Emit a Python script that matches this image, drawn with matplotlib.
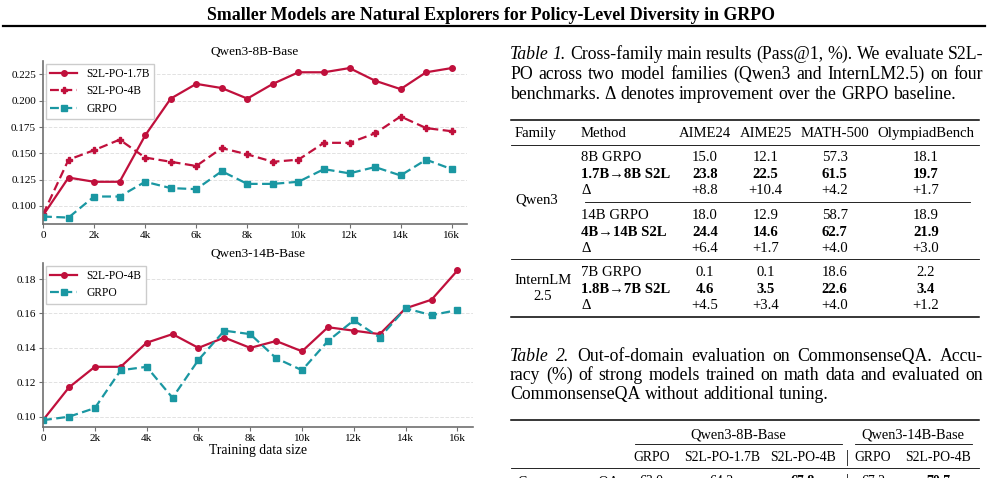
import numpy as np
import matplotlib.pyplot as plt
from matplotlib.lines import Line2D

plt.rcParams['font.family'] = ['Liberation Serif', 'DejaVu Serif']

# ---- data: training curves ----
train_size = [0, 1000, 2000, 3000, 4000, 5000, 6000, 7000, 8000,
              9000, 10000, 11000, 12000, 13000, 14000, 15000, 16000]
x_ticks = [0, 2000, 4000, 6000, 8000, 10000, 12000, 14000, 16000]
x_ticklabels = ['0', '2k', '4k', '6k', '8k', '10k', '12k', '14k', '16k']

# Qwen3-8B-Base
s2l_17b_8b = [0.091, 0.127, 0.123, 0.123, 0.167, 0.202, 0.216, 0.212, 0.202,
              0.216, 0.227, 0.227, 0.231, 0.219, 0.211, 0.227, 0.231]
s2l_4b_8b = [0.092, 0.144, 0.153, 0.163, 0.146, 0.142, 0.138, 0.155, 0.149,
             0.142, 0.144, 0.160, 0.160, 0.169, 0.185, 0.174, 0.171]
grpo_8b = [0.090, 0.089, 0.109, 0.109, 0.123, 0.117, 0.116, 0.133, 0.121,
           0.121, 0.123, 0.135, 0.131, 0.137, 0.129, 0.144, 0.135]

# Qwen3-14B-Base
s2l_4b_14b = [0.098, 0.117, 0.129, 0.129, 0.143, 0.148, 0.140, 0.146, 0.140,
              0.144, 0.138, 0.152, 0.150, 0.148, 0.163, 0.168, 0.185]
grpo_14b = [0.098, 0.100, 0.105, 0.127, 0.129, 0.111, 0.133, 0.150, 0.148,
            0.134, 0.127, 0.144, 0.156, 0.146, 0.163, 0.159, 0.162]

# ---- data: table 1 ----
t1_benchmarks = ['AIME24', 'AIME25', 'MATH-500', 'OlympiadBench']
t1_methods = ['8B GRPO', '1.7B\u21928B S2L', '\u0394',
              '14B GRPO', '4B\u219214B S2L', '\u0394',
              '7B GRPO', '1.8B\u21927B S2L', '\u0394']
qwen8_grpo = [15.0, 12.1, 57.3, 18.1]
qwen8_s2l = [23.8, 22.5, 61.5, 19.7]
qwen8_delta = [8.8, 10.4, 4.2, 1.7]
qwen14_grpo = [18.0, 12.9, 58.7, 18.9]
qwen14_s2l = [24.4, 14.6, 62.7, 21.9]
qwen14_delta = [6.4, 1.7, 4.0, 3.0]
intern_grpo = [0.1, 0.1, 18.6, 2.2]
intern_s2l = [4.6, 3.5, 22.6, 3.4]
intern_delta = [4.5, 3.4, 4.0, 1.2]

# ---- data: table 2 ----
t2_groups = ['Qwen3-8B-Base', 'Qwen3-14B-Base']
t2_methods = ['GRPO', 'S2L-PO-1.7B', 'S2L-PO-4B', 'GRPO', 'S2L-PO-4B']
t2_csqa = [63.0, 64.2, 67.8, 67.2, 70.7]
t2_bold = [False, False, True, False, True]

W, H = 988, 478
RED = '#c0103c'
TEAL = '#1a97a2'


def fx(x):
    return x / W


def fy(y):
    return 1 - y / H


fig = plt.figure(figsize=(W / 100, H / 100), dpi=100)
renderer = fig.canvas.get_renderer()


def hline(y, x0, x1, lw):
    fig.add_artist(Line2D([fx(x0), fx(x1)], [fy(y), fy(y)], transform=fig.transFigure,
                          color='black', lw=lw))


# ---- header ----
fig.text(fx(491), fy(15.5), 'Smaller Models are Natural Explorers for Policy-Level Diversity in GRPO',
         ha='center', va='center', fontsize=12.9, fontweight='bold')
hline(25.5, 3, 985, 1.6)


# ---- charts ----
def style_axes(ax, title):
    for s in ['top', 'right']:
        ax.spines[s].set_visible(False)
    for s in ['left', 'bottom']:
        ax.spines[s].set_color('#707070')
        ax.spines[s].set_linewidth(1.2)
    ax.yaxis.grid(True, ls='--', color='#e2e2e2', lw=0.7)
    ax.set_axisbelow(True)
    ax.tick_params(labelsize=8, length=3, color='#707070', pad=2)
    ax.set_xticks(x_ticks)
    ax.set_xticklabels(x_ticklabels)
    ax.set_title(title, fontsize=9.5, pad=4)
    ax.legend(loc='upper left', fontsize=8.3, frameon=True, fancybox=False,
              edgecolor='#cccccc', framealpha=1, handlelength=2.3, borderpad=0.4,
              labelspacing=0.45, handletextpad=0.8, borderaxespad=0.25)


ax1 = fig.add_axes([fx(43), fy(224), fx(467) - fx(43), fy(60.7) - fy(224)])
ax1.plot(train_size, s2l_17b_8b, color=RED, marker='o', ms=4, lw=1.6, label='S2L-PO-1.7B')
ax1.plot(train_size, s2l_4b_8b, color=RED, marker='P', ms=5, lw=1.6, ls=(0, (4, 2)), label='S2L-PO-4B')
ax1.plot(train_size, grpo_8b, color=TEAL, marker='s', ms=4, lw=1.6, ls=(0, (4, 2)), label='GRPO')
ax1.set_xlim(0, 16600)
ax1.set_ylim(0.0829, 0.238)
ax1.set_yticks([0.100, 0.125, 0.150, 0.175, 0.200, 0.225])
ax1.set_yticklabels(['0.100', '0.125', '0.150', '0.175', '0.200', '0.225'])
style_axes(ax1, 'Qwen3-8B-Base')

ax2 = fig.add_axes([fx(43), fy(426.7), fx(473) - fx(43), fy(262.7) - fy(426.7)])
ax2.plot(train_size, s2l_4b_14b, color=RED, marker='o', ms=4, lw=1.6, label='S2L-PO-4B')
ax2.plot(train_size, grpo_14b, color=TEAL, marker='s', ms=4, lw=1.6, ls=(0, (4, 2)), label='GRPO')
ax2.set_xlim(0, 16600)
ax2.set_ylim(0.0942, 0.1895)
ax2.set_yticks([0.10, 0.12, 0.14, 0.16, 0.18])
ax2.set_yticklabels(['0.10', '0.12', '0.14', '0.16', '0.18'])
style_axes(ax2, 'Qwen3-14B-Base')
ax2.set_xlabel('Training data size', fontsize=9.8, labelpad=1)


# ---- captions (justified) ----
def caption(lines, baselines, size=12.8, x0=510, x1=983):
    for i, (line, yb) in enumerate(zip(lines, baselines)):
        words = line.split(' ')
        styles = ['italic' if (i == 0 and k < 2) else 'normal' for k in range(len(words))]
        texts = [fig.text(0, fy(yb), w, fontsize=size, style=s, va='baseline', ha='left')
                 for w, s in zip(words, styles)]
        widths = [t.get_window_extent(renderer).width for t in texts]
        if i < len(lines) - 1:
            gap = (x1 - x0 - sum(widths)) / (len(words) - 1)
        else:
            gap = size * 100 / 72 * 0.25
        x = x0
        for t, w in zip(texts, widths):
            t.set_x(fx(x))
            x += w + gap


caption(['Table 1. Cross-family main results (Pass@1, %). We evaluate S2L-',
         'PO across two model families (Qwen3 and InternLM2.5) on four',
         'benchmarks. \u0394 denotes improvement over the GRPO baseline.'],
        [59.3, 79.3, 98.8])

caption(['Table 2. Out-of-domain evaluation on CommonsenseQA. Accu-',
         'racy (%) of strong models trained on math data and evaluated on',
         'CommonsenseQA without additional tuning.'],
        [360.7, 380.2, 398.6])

# ---- table 1 ----
TS = 10.6
col_x = [705, 765.7, 834.7, 926]
hline(120, 511, 979, 1.1)
fig.text(fx(515), fy(136.7), 'Family', fontsize=TS, va='baseline')
fig.text(fx(581), fy(136.7), 'Method', fontsize=TS, va='baseline')
for cx, name in zip(col_x, t1_benchmarks):
    fig.text(fx(cx), fy(136.7), name, fontsize=TS, va='baseline', ha='center')
hline(145, 511, 979, 0.6)

row_y = [161, 178, 194, 219, 235.5, 252, 276, 293, 309]
row_vals = [qwen8_grpo, qwen8_s2l, qwen8_delta,
            qwen14_grpo, qwen14_s2l, qwen14_delta,
            intern_grpo, intern_s2l, intern_delta]
for r, (yb, meth, vals) in enumerate(zip(row_y, t1_methods, row_vals)):
    kind = r % 3
    fw = 'bold' if kind == 1 else 'normal'
    fig.text(fx(581), fy(yb), meth, fontsize=TS, va='baseline', fontweight=fw)
    for cx, v in zip(col_x, vals):
        s = f'+{v:.1f}' if kind == 2 else f'{v:.1f}'
        fig.text(fx(cx), fy(yb), s, fontsize=TS, va='baseline', ha='center', fontweight=fw)

fig.text(fx(515), fy(203), 'Qwen3', fontsize=TS, va='baseline')
fig.text(fx(543), fy(283.5), 'InternLM', fontsize=TS, va='baseline', ha='center')
fig.text(fx(543), fy(300), '2.5', fontsize=TS, va='baseline', ha='center')
hline(202.3, 585, 970, 0.6)
hline(259.3, 511, 979, 0.6)
hline(316.7, 511, 979, 1.1)

# ---- table 2 ----
T2G = 10.4
T2S = 9.9
t2_x = [651.7, 721.7, 803, 873, 938]
hline(420, 511, 979, 1.1)
fig.text(fx(738), fy(438.3), t2_groups[0], fontsize=T2G, va='baseline', ha='center')
fig.text(fx(913), fy(438.3), t2_groups[1], fontsize=T2G, va='baseline', ha='center')
hline(444.3, 635, 842, 0.6)
hline(444.3, 855, 972, 0.6)
for cx, m in zip(t2_x, t2_methods):
    fig.text(fx(cx), fy(460.7), m, fontsize=T2S, va='baseline', ha='center')
fig.text(fx(847.7), fy(461.5), '|', fontsize=T2S + 1.5, va='baseline', ha='center')
hline(468.3, 511, 979, 0.6)
fig.text(fx(517), fy(485), 'CommonsenseQA', fontsize=10, va='baseline')
for cx, v, b in zip(t2_x, t2_csqa, t2_bold):
    fig.text(fx(cx), fy(485), f'{v:.1f}', fontsize=10, va='baseline', ha='center',
             fontweight='bold' if b else 'normal')
fig.text(fx(847.7), fy(486), '|', fontsize=T2S + 1.5, va='baseline', ha='center')

fig.savefig('out.png', dpi=100)
